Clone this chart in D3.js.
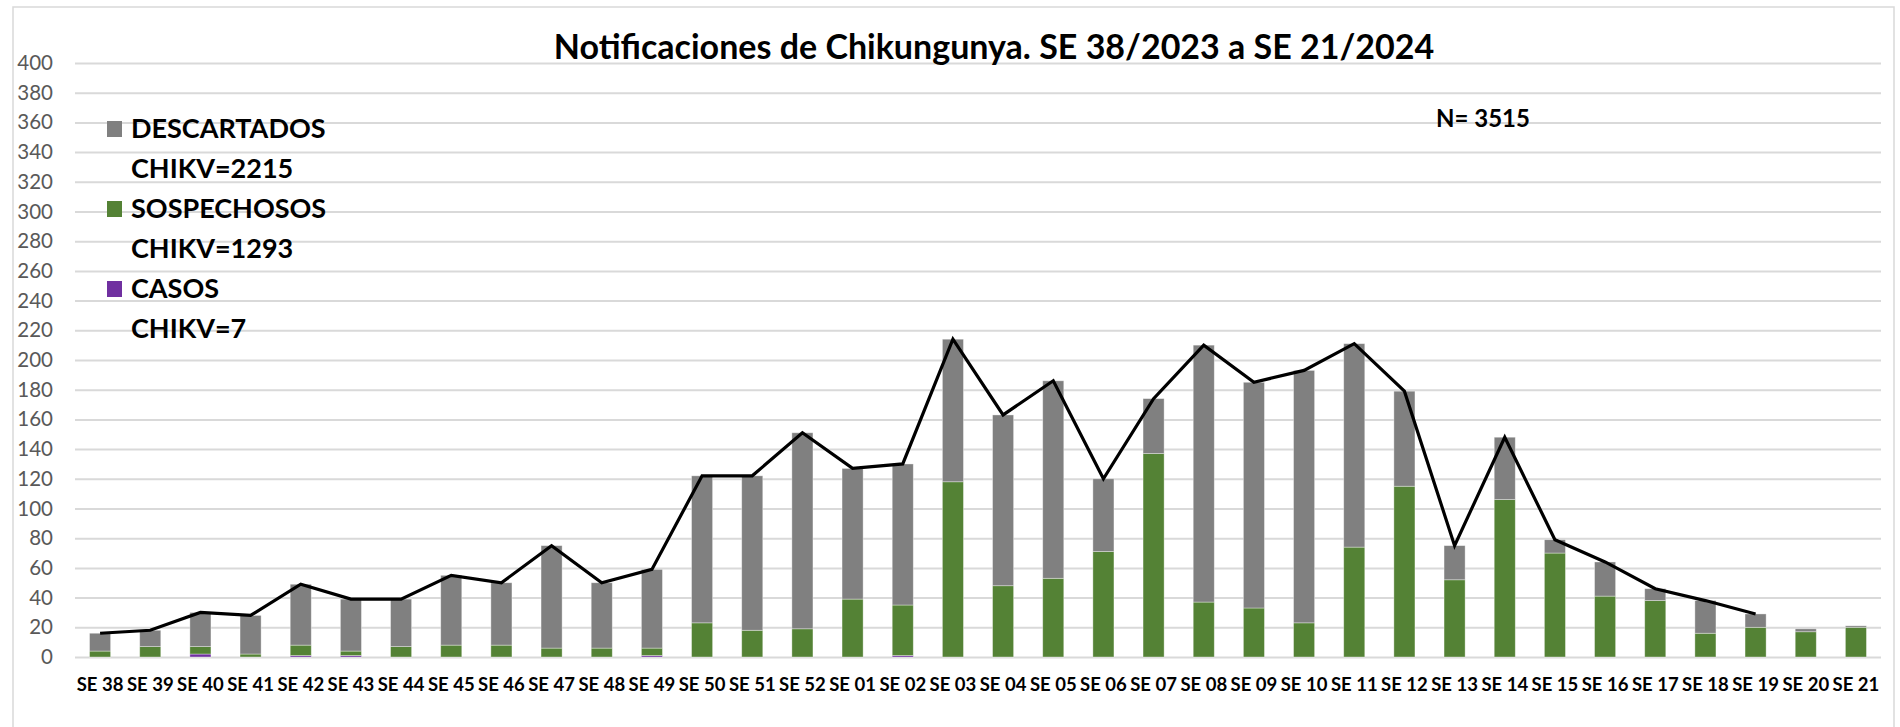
<!DOCTYPE html>
<html>
<head>
<meta charset="utf-8">
<script src="https://cdn.jsdelivr.net/npm/d3@7"></script>
<style>
  html, body { margin: 0; padding: 0; background: #fff; }
  svg { display: block; font-family: Lato, "Open Sans", sans-serif; }
</style>
</head>
<body>
<svg id="chart" width="1900" height="727"></svg>
<script>
// semanas epidemiologicas
var semanas = ["SE 38", "SE 39", "SE 40", "SE 41", "SE 42", "SE 43", "SE 44", "SE 45", "SE 46", "SE 47",
  "SE 48", "SE 49", "SE 50", "SE 51", "SE 52", "SE 01", "SE 02", "SE 03", "SE 04", "SE 05",
  "SE 06", "SE 07", "SE 08", "SE 09", "SE 10", "SE 11", "SE 12", "SE 13", "SE 14", "SE 15",
  "SE 16", "SE 17", "SE 18", "SE 19", "SE 20", "SE 21"];

var casos = [0, 0, 2, 0, 1, 1, 0, 0, 0, 0,
  0, 1, 0, 0, 0, 0, 1, 0, 0, 0,
  0, 0, 0, 0, 0, 0, 0, 0, 0, 0,
  0, 0, 0, 0, 0, 0];

var sospechosos = [4, 7, 5, 2, 7, 3, 7, 8, 8, 6,
  6, 5, 23, 18, 19, 39, 34, 118, 48, 53,
  71, 137, 37, 33, 23, 74, 115, 52, 106, 70,
  41, 38, 16, 20, 17, 20];

var descartados = [12, 11, 23, 26, 41, 35, 32, 47, 42, 69,
  44, 53, 99, 104, 132, 88, 95, 96, 115, 133,
  49, 37, 173, 152, 170, 137, 64, 23, 42, 9,
  23, 8, 22, 9, 2, 1];

// linea de total de notificaciones (llega hasta SE 19)
var totalLinea = [16, 18, 30, 28, 49, 39, 39, 55, 50, 75,
  50, 59, 122, 122, 151, 127, 130, 214, 163, 186,
  120, 174, 210, 185, 193, 211, 179, 75, 148, 79,
  64, 46, 38, 29, null, null];

var yTicks = d3.range(0, 401, 20);

var series = [
  { key: "casos", label: "CASOS", sub: "CHIKV=7", color: "#7030a0", values: casos },
  { key: "sospechosos", label: "SOSPECHOSOS", sub: "CHIKV=1293", color: "#548235", values: sospechosos },
  { key: "descartados", label: "DESCARTADOS", sub: "CHIKV=2215", color: "#808080", values: descartados }
];

var margin = { top: 63, right: 19, bottom: 70, left: 75 };
var width = 1900 - margin.left - margin.right;
var height = 727 - margin.top - margin.bottom;

var svg = d3.select("#chart");

// marco del grafico
svg.append("rect")
  .attr("x", 13).attr("y", 7)
  .attr("width", 1881).attr("height", 730)
  .attr("fill", "none")
  .attr("stroke", "#d9d9d9")
  .attr("stroke-width", 1.5);

var g = svg.append("g")
  .attr("transform", "translate(" + margin.left + "," + margin.top + ")");

var x = d3.scaleBand().domain(semanas).range([0, width]).paddingInner(0.58).paddingOuter(0.29);
var y = d3.scaleLinear().domain([0, 400]).range([height, 0]);

// grilla horizontal
g.append("g")
  .attr("class", "grid")
  .call(d3.axisLeft(y).tickValues(yTicks).tickSize(-width).tickFormat(""))
  .call(function (s) { s.select(".domain").remove(); })
  .selectAll("line")
  .attr("stroke", "#d9d9d9")
  .attr("stroke-width", 2);

// eje y
g.append("g")
  .attr("class", "axis axis--y")
  .attr("transform", "translate(-22,0)")
  .call(d3.axisLeft(y).tickValues(yTicks).tickSize(0).tickPadding(0))
  .call(function (s) { s.select(".domain").remove(); })
  .selectAll("text")
  .attr("fill", "#595959")
  .style("font-size", "20.5px")
  .style("font-family", "Lato, sans-serif");

// barras apiladas
var rows = semanas.map(function (s, i) {
  return { semana: s, casos: casos[i], sospechosos: sospechosos[i], descartados: descartados[i] };
});
var stack = d3.stack().keys(series.map(function (d) { return d.key; }));
var stacked = stack(rows);

g.selectAll(".serie")
  .data(stacked)
  .enter().append("g")
  .attr("class", "serie")
  .attr("fill", function (d, i) { return series[i].color; })
  .selectAll("rect")
  .data(function (d) { return d; })
  .enter().append("rect")
  .attr("x", function (d) { return x(d.data.semana); })
  .attr("y", function (d) { return y(d[1]); })
  .attr("width", x.bandwidth())
  .attr("height", function (d) { return Math.max(0, y(d[0]) - y(d[1])); })
  .attr("stroke", "#ffffff")
  .attr("stroke-opacity", 0.45)
  .attr("stroke-width", 0.8);

// linea total
var line = d3.line()
  .defined(function (d) { return d != null; })
  .x(function (d, i) { return x(semanas[i]) + x.bandwidth() / 2; })
  .y(function (d) { return y(d); });

g.append("path")
  .datum(totalLinea)
  .attr("fill", "none")
  .attr("stroke", "#000")
  .attr("stroke-width", 3.2)
  .attr("stroke-linejoin", "miter")
  .attr("d", line);

// eje x
g.append("g")
  .attr("class", "axis axis--x")
  .attr("transform", "translate(0," + height + ")")
  .call(d3.axisBottom(x).tickSize(0).tickPadding(21))
  .call(function (s) { s.select(".domain").remove(); })
  .selectAll("text")
  .attr("fill", "#000")
  .style("font-size", "18.5px")
  .style("font-weight", "bold")
  .style("font-family", "Lato, sans-serif");

// titulo
svg.append("text")
  .attr("x", 994)
  .attr("y", 59)
  .attr("text-anchor", "middle")
  .style("font-size", "34px")
  .style("font-weight", "bold")
  .text("Notificaciones de Chikungunya. SE 38/2023 a SE 21/2024");

// leyenda
var legend = svg.append("g").attr("transform", "translate(107,0)");
var legendItems = series.slice().reverse();
legendItems.forEach(function (d, i) {
  var base = 138 + i * 80;
  legend.append("rect")
    .attr("x", 0).attr("y", base - 17)
    .attr("width", 15).attr("height", 16)
    .attr("fill", d.color);
  legend.append("text")
    .attr("x", 24).attr("y", base)
    .style("font-size", "27px").style("font-weight", "bold")
    .text(d.label);
  legend.append("text")
    .attr("x", 24).attr("y", base + 40)
    .style("font-size", "27px").style("font-weight", "bold")
    .text(d.sub);
});

// total
svg.append("text")
  .attr("x", 1436)
  .attr("y", 127)
  .style("font-size", "24px")
  .style("font-weight", "bold")
  .text("N= 3515");
</script>
</body>
</html>
